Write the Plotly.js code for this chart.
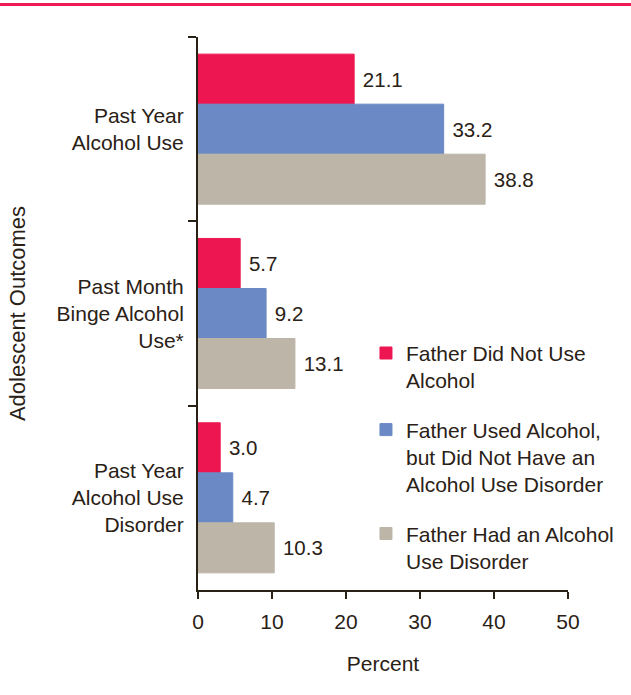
<!DOCTYPE html>
<html>
<head>
<meta charset="utf-8">
<script src="https://cdn.plot.ly/plotly-3.0.1.min.js"></script>
<style>
html,body{margin:0;padding:0;background:#fff;}
#chart{width:631px;height:695px;}
</style>
</head>
<body>
<div id="chart"></div>
<script>
var categories = ["Past Year<br>Alcohol Use", "Past Month<br>Binge Alcohol<br>Use*", "Past Year<br>Alcohol Use<br>Disorder"];
var seriesNames = ["Father Did Not Use<br>Alcohol", "Father Used Alcohol,<br>but Did Not Have an<br>Alcohol Use Disorder", "Father Had an Alcohol<br>Use Disorder"];
var noUse = [21.1, 5.7, 3.0];
var usedNoDisorder = [33.2, 9.2, 4.7];
var hadDisorder = [38.8, 13.1, 10.3];
var xTickVals = [0, 10, 20, 30, 40, 50];
var colors = ["#ED1651", "#6B8AC5", "#BDB6A8"];

var txt = "#2a2116";
var font = "Liberation Sans, Arial, Helvetica, sans-serif";
var seriesValues = [noUse, usedNoDisorder, hadDisorder];

var traces = seriesValues.map(function(vals, i){
  return {
    type: "bar",
    orientation: "h",
    name: seriesNames[i],
    legendgroup: "g" + i,
    x: vals,
    y: categories,
    marker: {color: colors[i], line: {width: 1, color: colors[i]}},
    text: vals.map(function(v){ return "\u00a0" + v.toFixed(1); }),
    textposition: "outside",
    cliponaxis: false,
    textfont: {family: font, size: 20.5, color: txt},
    hoverinfo: "none"
  };
});

var layout = {
  width: 631, height: 695,
  margin: {l: 198, r: 63, t: 37, b: 105},
  paper_bgcolor: "#fff",
  plot_bgcolor: "#fff",
  font: {family: font, size: 20, color: txt},
  barmode: "group",
  bargap: 0.186,
  bargroupgap: 0,
  showlegend: true,
  legend: {
    x: 0.454, xanchor: "left",
    y: 0.465, yanchor: "top",
    valign: "top",
    traceorder: "grouped",
    tracegroupgap: 19,
    font: {family: font, size: 21, color: txt},
    bgcolor: "rgba(0,0,0,0)"
  },
  xaxis: {
    range: [0, 50],
    tickvals: xTickVals,
    ticktext: xTickVals.map(String),
    ticks: "outside", ticklen: 7, tickwidth: 2, tickcolor: txt,
    ticklabelstandoff: 5,
    showline: true, linecolor: txt, linewidth: 2,
    showgrid: false, zeroline: false,
    tickfont: {family: font, size: 21, color: txt},
    title: {text: "Percent", font: {family: font, size: 21, color: txt}, standoff: 24},
    fixedrange: true
  },
  yaxis: {
    type: "category",
    autorange: "reversed",
    ticks: "outside", ticklen: 8, tickwidth: 2, tickcolor: txt,
    tickson: "boundaries",
    ticklabelstandoff: 8,
    showline: true, linecolor: txt, linewidth: 2,
    showgrid: false, zeroline: false,
    tickfont: {family: font, size: 21, color: txt},
    title: {text: "Adolescent Outcomes", font: {family: font, size: 22, color: txt}, standoff: 25},
    fixedrange: true
  },
  shapes: [{
    type: "line", xref: "paper", yref: "paper",
    x0: -198/370, x1: 1 + 63/370,
    y0: 1 + 32.5/553, y1: 1 + 32.5/553,
    line: {color: "#EE1C56", width: 3}
  }]
};

Plotly.newPlot("chart", traces, layout, {displayModeBar: false, staticPlot: true});
</script>
</body>
</html>
